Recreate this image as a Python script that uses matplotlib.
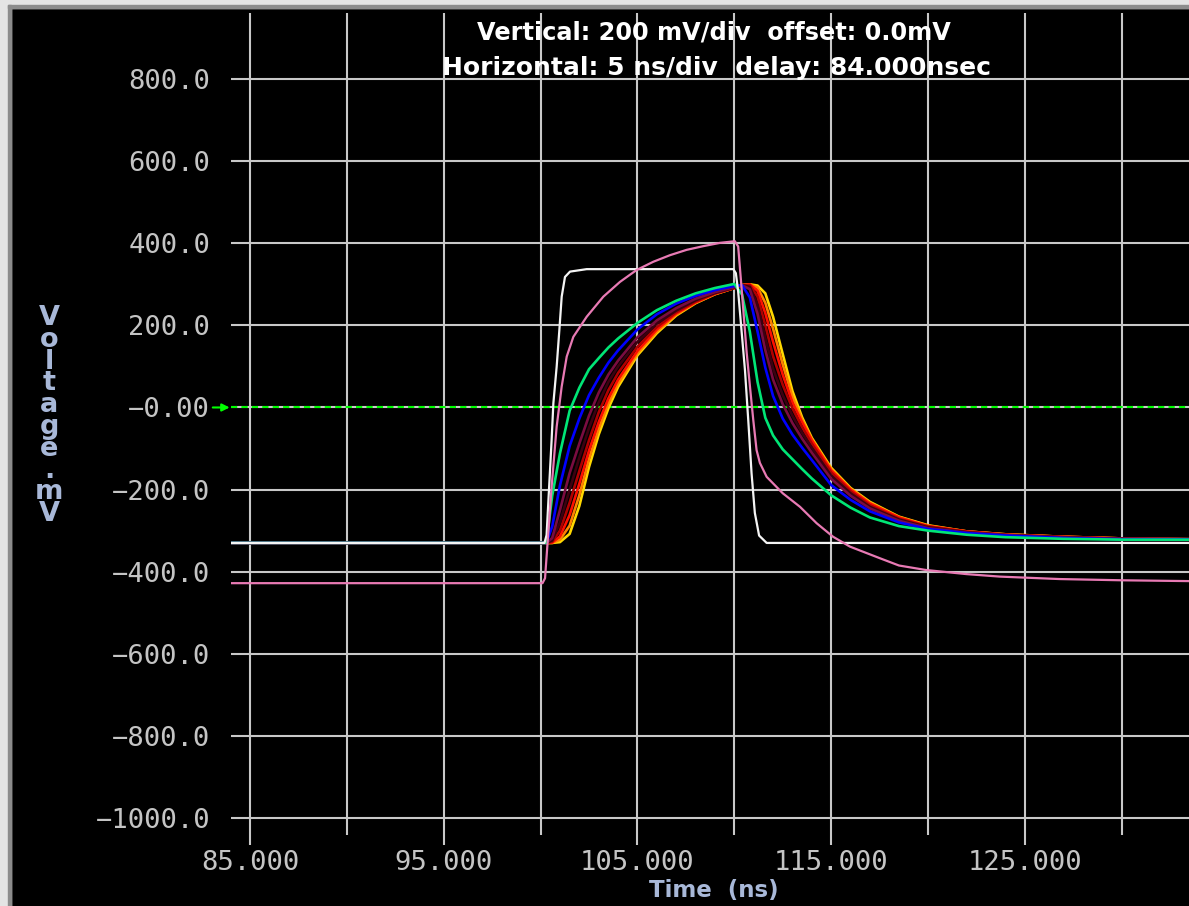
import matplotlib
matplotlib.use('Agg')
import matplotlib.pyplot as plt
from matplotlib.patches import Rectangle

# ---------------- data ----------------
x_major = [85, 95, 105, 115, 125]
x_labels = ['85.000', '95.000', '105.000', '115.000', '125.000']
x_minor = [90, 100, 110, 120, 130]
y_ticks = [800, 600, 400, 200, 0, -200, -400, -600, -800, -1000]
y_labels = ['800.0', '600.0', '400.0', '200.0', '\u22120.00', '\u2212200.0',
            '\u2212400.0', '\u2212600.0', '\u2212800.0', '\u22121000.0']

title_1 = 'Vertical: 200 mV/div  offset: 0.0mV'
title_2 = 'Horizontal: 5 ns/div  delay: 84.000nsec'
x_title = 'Time  (ns)'
y_title = 'Voltage.mV'

# shared time base for the family of slow traces (ns)
t_family = [84, 100.3, 100.6, 101.0, 101.5, 102.0, 102.5, 103.0, 103.5, 104.0,
            105.0, 106.0, 107.0, 108.0, 109.0, 110.0, 110.4, 110.8, 111.2, 111.6,
            112.0, 112.5, 113.0, 113.5, 114.0, 115.0, 116.0, 117.0, 118.5, 120.0,
            122.0, 124.0, 127.0, 130.0, 133.5]

v_green = [-330, -330, -215, -112, -8, 48, 93, 120, 146, 168,
           206, 237, 260, 278, 291, 301, 275, 185, 62, -25,
           -68, -102, -126, -150, -173, -214, -244, -268, -289, -300,
           -310, -316, -320, -322, -322]
v_blue = [-330, -330, -290, -190, -94, -27, 30, 72, 109, 139,
          190, 227, 253, 272, 286, 296, 298, 268, 185, 97,
          28, -27, -66, -98, -128, -189, -225, -253, -280, -296,
          -306, -312, -318, -321, -321]
v_maroon = [-330, -330, -318, -250, -160, -88, -20, 36, 80, 114,
            171, 212, 242, 265, 281, 293, 298, 288, 228, 140,
            68, 8, -38, -76, -110, -174, -215, -246, -276, -294,
            -305, -311, -317, -320, -321]
v_dark = [-330, -330, -324, -280, -200, -122, -50, 12, 62, 100,
          160, 204, 236, 261, 279, 292, 298, 294, 250, 170,
          95, 30, -20, -62, -98, -166, -209, -242, -273, -292,
          -304, -311, -316, -320, -321]
v_brown = [-330, -330, -327, -300, -232, -155, -80, -12, 42, 84,
           148, 196, 232, 258, 278, 291, 298, 298, 270, 200,
           125, 55, -2, -48, -88, -158, -204, -238, -271, -290,
           -303, -310, -316, -320, -321]
v_red = [-330, -330, -329, -314, -262, -186, -105, -36, 22, 68,
         138, 190, 229, 256, 277, 291, 298, 300, 284, 230,
         160, 80, 12, -36, -80, -153, -200, -234, -268, -289,
         -302, -310, -315, -319, -321]
v_orange = [-330, -330, -330, -322, -288, -214, -125, -52, 10, 58,
            132, 185, 226, 255, 276, 291, 298, 300, 292, 255,
            192, 105, 26, -30, -77, -150, -198, -232, -267, -288,
            -302, -309, -315, -319, -321]
v_yellow = [-330, -330, -330, -328, -308, -240, -145, -66, -2, 50,
            127, 181, 224, 254, 276, 291, 298, 300, 297, 278,
            221, 130, 40, -24, -74, -147, -196, -230, -266, -287,
            -302, -309, -315, -319, -321]

# fast white trace
t_white = [84, 100.2, 100.31, 100.57, 100.66, 100.83, 100.97, 101.09, 101.26, 101.52,
           102.38, 109.95, 110.08, 110.2, 110.37, 110.55, 110.72, 110.89, 111.06,
           111.28, 111.67, 133.5]
v_white = [-330, -330, -311, -79, 10, 99, 189, 270, 318, 331,
           337, 337, 327, 282, 189, 91, -31, -160, -257,
           -312, -330, -330]

# pink trace
t_pink = [84, 100.1, 100.23, 100.57, 100.83, 101.09, 101.35, 101.69, 102.38, 103.24,
          104.10, 104.96, 105.82, 106.68, 107.54, 108.40, 109.26, 110.03, 110.20,
          110.37, 110.64, 110.81, 110.98, 111.15, 111.32, 111.67, 112.5, 113.39,
          114.25, 115.1, 115.97, 117.5, 118.5, 119.9, 122.0, 123.7, 126.8, 130.0, 133.5]
v_pink = [-428, -428, -416, -193, -47, 51, 124, 172, 221, 270,
          306, 335, 355, 371, 384, 393, 401, 405, 392,
          294, 133, 50, -31, -104, -135, -169, -209, -242,
          -282, -315, -339, -367, -385, -396, -406, -412, -418, -421, -423]

family = [  # drawn back to front
    (v_yellow, '#ffd800'),
    (v_orange, '#ff8000'),
    (v_red, '#ff1000'),
    (v_brown, '#b00000'),
    (v_dark, '#3d0010'),
    (v_maroon, '#7a0c40'),
    (v_blue, '#0000ff'),
    (v_green, '#00e676'),
]

# ---------------- figure ----------------
W, H = 1189, 906
fig = plt.figure(figsize=(W / 100, H / 100), dpi=100, facecolor='black')


def fx(px):
    return px / W


def fy(py):
    return 1 - py / H


GRID = '#c8c8c8'
LBL = '#c4c4c4'
AXT = '#a8b8d8'

ax = fig.add_axes([fx(230.6), fy(819.6), (W - 230.6) / W, (819.6 - 13) / H])
ax.set_facecolor('black')
ax.set_xlim(84, 133.47)
ax.set_ylim(-1004, 961)
for s in ax.spines.values():
    s.set_visible(False)

ax.set_xticks(x_major)
ax.set_xticklabels(x_labels)
ax.set_xticks(x_minor, minor=True)
ax.set_yticks(y_ticks)
ax.set_yticklabels(y_labels)
ax.tick_params(axis='x', which='major', length=18.3, width=1.5, color=GRID,
               pad=3.6, labelsize=19.5, labelcolor=LBL)
ax.tick_params(axis='x', which='minor', length=11, width=1.5, color=GRID)
ax.tick_params(axis='y', length=0, pad=14.8, labelsize=19.5, labelcolor=LBL)
for lab in ax.get_xticklabels() + ax.get_yticklabels():
    lab.set_family('DejaVu Sans Mono')

ax.set_axisbelow(True)
ax.grid(True, axis='x', which='both', color=GRID, lw=1.5)
ax.grid(True, axis='y', which='major', color=GRID, lw=1.5)

# zero reference line (green dashes over the grey grid line)
ax.axhline(0, color='#00ff00', lw=1.5, ls=(0, (3, 2)), zorder=1)
ax.annotate('', xy=(83.95, 0), xytext=(83.08, 0),
            arrowprops=dict(arrowstyle='-|>', color='#00ff00', lw=1.5,
                            mutation_scale=11, shrinkA=0, shrinkB=0),
            annotation_clip=False)

for i, (vals, col) in enumerate(family):
    ax.plot(t_family, vals, color=col, lw=1.9, zorder=2 + i * 0.01,
            solid_joinstyle='round')
ax.plot(t_white, v_white, color='#f4f4f4', lw=1.6, zorder=3)
ax.plot(t_pink, v_pink, color='#e87ab4', lw=1.6, zorder=3.1)

# titles and axis labels
fig.text(fx(714), fy(40), title_1, ha='center', va='baseline', color='white',
         fontsize=17.3, fontweight='bold', family='DejaVu Sans')
fig.text(fx(716), fy(75), title_2, ha='center', va='baseline', color='white',
         fontsize=18, fontweight='bold', family='DejaVu Sans')
fig.text(fx(714), fy(897), x_title, ha='center', va='baseline', color=AXT,
         fontsize=16.5, fontweight='bold', family='DejaVu Sans')
fig.text(fx(49), fy(305), '\n'.join(y_title), ha='center', va='top',
         multialignment='center', linespacing=0.79, color=AXT,
         fontsize=19.5, fontweight='bold', family='DejaVu Sans')

# window frame (light grey bevel on the top and left)
fig.patches.append(Rectangle((0, 0), fx(11), 1, transform=fig.transFigure,
                             color='#e4e4e4', zorder=10))
fig.patches.append(Rectangle((0, fy(8)), 1, 8 / H, transform=fig.transFigure,
                             color='#e4e4e4', zorder=10))
fig.patches.append(Rectangle((fx(8), 0), fx(3), fy(5), transform=fig.transFigure,
                             color='#8c8c8c', zorder=11))
fig.patches.append(Rectangle((fx(8), fy(8)), 1, 3 / H, transform=fig.transFigure,
                             color='#8c8c8c', zorder=11))

fig.savefig('out.png', dpi=100, facecolor='black')
